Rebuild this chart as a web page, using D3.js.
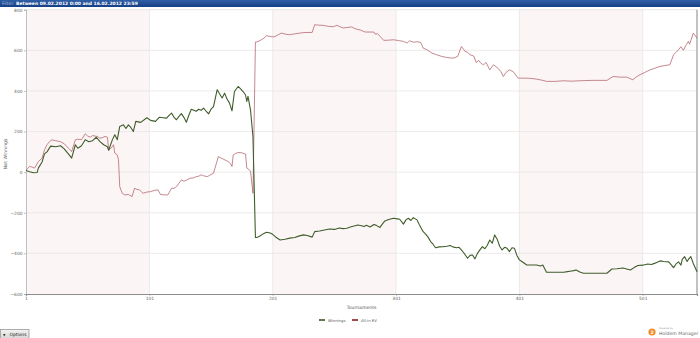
<!DOCTYPE html>
<html>
<head>
<meta charset="utf-8">
<script src="https://cdn.jsdelivr.net/npm/d3@7"></script>
<style>
  html, body { margin: 0; padding: 0; background: #fff; }
  svg { display: block; font-family: "DejaVu Sans", Verdana, sans-serif; }
</style>
</head>
<body>
<svg id="chart" width="700" height="338"></svg>
<script>
// Cumulative net winnings per tournament
const winningsT = [1,4,7,10,11,14,16,18,21,25,29,32,34,36,38,41,43,46,49,52,55,58,61,64,67,68,71,73,75,77,80,82,84,86,88,90,94,99,102,106,109,112,115,117,119,121,123,125,127,129,131,133,135,137,139,141,143,145,147,149,151,153,156,158,160,162,164,166,168,170,173,175,177,179,180,181,183,185,187,
  188,190,193,196,199,201,204,207,211,215,219,222,226,229,233,235,239,243,247,251,255,258,261,264,267,270,273,275,277,280,283,285,288,290,292,295,299,302,304,307,309,311,313,315,318,320,323,325,327,329,331,333,336,339,342,345,347,350,352,354,356,359,361,363,365,367,369,371,373,375,377,379,381,383,385,387,389,391,393,395,397,399,401,403,407,411,415,418,420,423,430,437,440,442,445,447,450,453,460,466,472,476,480,485,488,491,494,497,501,505,508,511,515,518,522,524,526,528,530,532,533,535,537,538,540,542,545];
const winningsV = [8,2,-3,-2,20,50,90,100,128,125,130,115,100,85,69,135,118,130,160,150,155,172,150,135,125,108,159,184,160,225,233,215,233,220,200,250,245,268,255,250,270,268,266,280,291,270,258,275,288,270,246,280,310,305,300,310,305,315,300,287,310,323,406,385,365,389,360,340,302,397,422,410,397,380,348,373,307,175,-322,
  -322,-317,-305,-296,-300,-306,-322,-334,-330,-325,-322,-315,-309,-312,-320,-293,-290,-285,-280,-282,-275,-278,-276,-270,-265,-260,-264,-268,-262,-270,-258,-262,-272,-255,-240,-233,-227,-230,-232,-256,-235,-227,-238,-224,-235,-260,-293,-305,-320,-342,-355,-372,-368,-367,-365,-361,-368,-372,-370,-383,-398,-424,-410,-408,-427,-400,-383,-367,-377,-360,-334,-350,-309,-330,-365,-383,-370,-375,-391,-372,-375,-410,-432,-440,-457,-457,-457,-462,-457,-493,-493,-493,-490,-488,-485,-482,-492,-498,-498,-498,-498,-477,-476,-472,-477,-482,-470,-460,-458,-452,-455,-448,-437,-440,-442,-455,-470,-452,-442,-458,-430,-416,-440,-430,-416,-450,-490];

// All-in adjusted expected value per tournament
const evT = [1,4,6,8,11,14,16,18,20,22,25,29,32,34,36,38,41,43,46,49,51,53,55,57,59,61,63,65,67,68,70,72,73,75,76,77,79,81,84,87,89,91,93,95,96,99,102,105,108,110,113,116,119,121,123,125,127,129,131,134,137,139,141,143,145,148,150,153,157,159,161,163,165,167,168,169,171,173,176,179,180,182,183,185,187,
  188,191,194,196,199,202,205,208,211,214,218,223,228,233,235,238,242,246,250,253,256,258,261,265,268,272,276,280,283,284,286,288,291,295,299,303,307,310,312,315,318,321,323,326,330,334,338,342,345,348,351,354,357,359,361,364,366,368,370,372,374,377,380,384,386,388,390,393,396,400,405,410,415,420,423,430,437,443,450,460,472,477,482,488,491,493,496,499,503,507,511,515,519,523,526,528,530,532,534,536,538,539,542,545];
const evV = [10,28,25,20,52,69,110,135,150,159,155,150,140,126,115,101,159,162,160,189,178,172,180,178,175,167,170,176,172,110,118,135,94,85,61,-71,-104,-112,-110,-120,-79,-85,-87,-100,-104,-98,-96,-90,-87,-110,-112,-112,-79,-80,-71,-55,-38,-45,-40,-30,-28,-22,-20,-13,-18,-22,-15,-5,77,70,64,58,52,40,28,85,92,97,95,89,20,12,5,-104,641,
  641,649,660,672,668,666,675,685,680,677,680,685,688,688,726,724,723,718,716,723,715,710,712,715,706,700,690,690,690,680,682,669,649,650,652,648,644,636,647,640,642,639,611,603,587,578,570,565,562,562,570,619,595,590,578,572,540,550,535,529,540,504,529,510,495,471,490,504,495,463,463,462,458,452,447,447,450,448,450,452,452,471,468,468,460,455,470,480,492,504,512,521,525,529,578,590,603,618,600,625,644,630,685,660];

const yTicks = [800, 600, 400, 200, 0, -200, -400, -600];
const xTicks = [1, 101, 201, 301, 401, 501];

const seriesNames = ["Winnings", "All-in EV"];
const seriesColors = ["#3f5d2b", "#b0606a"];

const svg = d3.select("#chart");
const plot = { left: 26, right: 697, top: 9.7, bottom: 294 };

const x = d3.scaleLinear().domain([1, 545]).range([plot.left, plot.right]);
const y = d3.scaleLinear().domain([-600, 800]).range([plot.bottom, plot.top]);

// Header bar with the date filter
const defs = svg.append("defs");
const grad = defs.append("linearGradient").attr("id", "hdr").attr("x1", 0).attr("x2", 0).attr("y1", 0).attr("y2", 1);
grad.append("stop").attr("offset", "0%").attr("stop-color", "#2f5fa6");
grad.append("stop").attr("offset", "100%").attr("stop-color", "#163f84");
svg.append("rect").attr("x", 0).attr("y", 0).attr("width", 700).attr("height", 7).attr("fill", "url(#hdr)");
const hdr = svg.append("text").attr("x", 2).attr("y", 5.3).attr("font-size", 4.5);
hdr.append("tspan").attr("fill", "#a9bcd8").text("Filter: ");
hdr.append("tspan").attr("fill", "#fff").attr("font-weight", "bold").text("Between 09.02.2012 0:00 and 16.02.2012 23:59");

// Alternating shaded bands every 100 tournaments
const bandStarts = [1, 201, 401];
svg.append("g").selectAll("rect").data(bandStarts).join("rect")
  .attr("x", d => x(d))
  .attr("y", plot.top)
  .attr("width", d => x(Math.min(d + 100, 545)) - x(d))
  .attr("height", plot.bottom - plot.top)
  .attr("fill", "#fcf5f5");

// Grid lines
svg.append("g").selectAll("line").data(yTicks.slice(1, -1)).join("line")
  .attr("x1", plot.left).attr("x2", plot.right)
  .attr("y1", d => y(d)).attr("y2", d => y(d))
  .attr("stroke", "#e4e4e4").attr("stroke-width", 0.7);
svg.append("g").selectAll("line").data(xTicks.slice(1)).join("line")
  .attr("x1", d => x(d)).attr("x2", d => x(d))
  .attr("y1", plot.top).attr("y2", plot.bottom)
  .attr("stroke", "#e4e4e4").attr("stroke-width", 0.7);

// Plot frame
svg.append("line").attr("x1", plot.left).attr("x2", plot.right).attr("y1", plot.top).attr("y2", plot.top)
  .attr("stroke", "#dcdcdc").attr("stroke-width", 0.7);
svg.append("line").attr("x1", plot.right).attr("x2", plot.right).attr("y1", plot.top).attr("y2", plot.bottom)
  .attr("stroke", "#a8a8a8").attr("stroke-width", 1.4);

// Axes
const yAxis = svg.append("g").attr("transform", `translate(${plot.left},0)`)
  .call(d3.axisLeft(y).tickValues(yTicks).tickSize(2).tickPadding(1.5));
const xAxis = svg.append("g").attr("transform", `translate(0,${plot.bottom})`)
  .call(d3.axisBottom(x).tickValues(xTicks).tickSize(2).tickPadding(1.2));
yAxis.select(".domain").attr("stroke", "#b0b0b0").attr("stroke-width", 0.8);
xAxis.select(".domain").attr("stroke", "#8c8c8c").attr("stroke-width", 1.2);
[yAxis, xAxis].forEach(a => {
  a.selectAll(".tick line").attr("stroke", "#999").attr("stroke-width", 0.6);
  a.selectAll(".tick text").attr("fill", "#666").attr("font-size", 4.4)
    .attr("font-family", "DejaVu Sans, Verdana, sans-serif");
});

// Axis titles
svg.append("text").attr("transform", `translate(6.5,${(plot.top + plot.bottom) / 2 + 2}) rotate(-90)`)
  .attr("text-anchor", "middle").attr("font-size", 4.6).attr("fill", "#555").text("Net Winnings");
svg.append("text").attr("x", (plot.left + plot.right) / 2).attr("y", 308.5)
  .attr("text-anchor", "middle").attr("font-size", 4.6).attr("fill", "#555").text("Tournaments");

// Series lines
const line = d3.line().x(d => x(d[0])).y(d => y(d[1]));
const evData = d3.zip(evT, evV);
const winData = d3.zip(winningsT, winningsV);
svg.append("path").datum(evData).attr("d", line)
  .attr("fill", "none").attr("stroke", seriesColors[1]).attr("stroke-width", 0.75).attr("stroke-linejoin", "round");
svg.append("path").datum(winData).attr("d", line)
  .attr("fill", "none").attr("stroke", seriesColors[0]).attr("stroke-width", 1.1).attr("stroke-linejoin", "round");

// Legend
const legendX = [319, 352];
const legend = svg.append("g").selectAll("g").data(seriesNames).join("g")
  .attr("transform", (d, i) => `translate(${legendX[i]},320)`);
legend.append("line").attr("x1", 0).attr("x2", 6).attr("y1", 0).attr("y2", 0)
  .attr("stroke", (d, i) => i === 0 ? "#3a5424" : "#8e1c26").attr("stroke-width", 1.6);
legend.append("text").attr("x", 9).attr("y", 1.5).attr("font-size", 3.8).attr("fill", "#555").text(d => d);

// Options button
const bgrad = defs.append("linearGradient").attr("id", "btn").attr("x1", 0).attr("x2", 0).attr("y1", 0).attr("y2", 1);
bgrad.append("stop").attr("offset", "0%").attr("stop-color", "#f4f4f4");
bgrad.append("stop").attr("offset", "100%").attr("stop-color", "#d6d6d6");
svg.append("rect").attr("x", 0.5).attr("y", 329.5).attr("width", 28.5).attr("height", 9)
  .attr("fill", "url(#btn)").attr("stroke", "#9a9a9a").attr("stroke-width", 0.8);
svg.append("text").attr("x", 3).attr("y", 335.6).attr("font-size", 3.2).attr("fill", "#333").text("▼");
svg.append("text").attr("x", 9.5).attr("y", 335.8).attr("font-size", 4.4).attr("fill", "#222").text("Options");

// Footer brand mark
svg.append("circle").attr("cx", 652).attr("cy", 332).attr("r", 3.6).attr("fill", "#f08a2c");
svg.append("text").attr("x", 652).attr("y", 333.8).attr("text-anchor", "middle").attr("font-size", 4.6)
  .attr("font-weight", "bold").attr("fill", "#fff").text("2");
svg.append("text").attr("x", 659).attr("y", 329).attr("font-size", 2.4).attr("fill", "#999").text("Powered by");
svg.append("text").attr("x", 659).attr("y", 334.5).attr("font-size", 4.6).attr("fill", "#666").text("Holdem Manager");
</script>
</body>
</html>
